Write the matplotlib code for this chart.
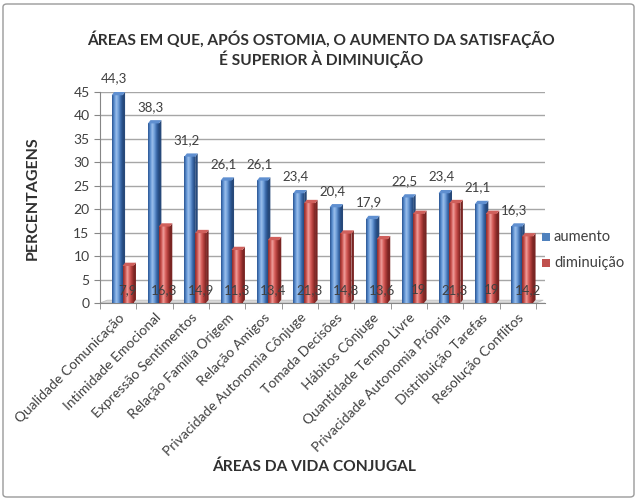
import numpy as np
import matplotlib
matplotlib.use("Agg")
import matplotlib.pyplot as plt
from matplotlib.patches import Rectangle, Polygon, FancyBboxPatch
from matplotlib.colors import LinearSegmentedColormap

categories = ["Qualidade Comunicação", "Intimidade Emocional", "Expressão Sentimentos",
              "Relação Família Origem", "Relação Amigos", "Privacidade Autonomia Cônjuge",
              "Tomada Decisões", "Hábitos Cônjuge", "Quantidade Tempo Livre",
              "Privacidade Autonomia Própria", "Distribuição Tarefas", "Resolução Conflitos"]
aumento = [44.3, 38.3, 31.2, 26.1, 26.1, 23.4, 20.4, 17.9, 22.5, 23.4, 21.1, 16.3]
diminuicao = [7.9, 16.3, 14.9, 11.3, 13.4, 21.3, 14.8, 13.6, 19, 21.3, 19, 14.2]
yticks = list(range(0, 50, 5))

title = "ÁREAS EM QUE, APÓS OSTOMIA, O AUMENTO DA SATISFAÇÃO\nÉ SUPERIOR À DIMINUIÇÃO"
xlabel = "ÁREAS DA VIDA CONJUGAL"
ylabel = "PERCENTAGENS"

plt.rcParams['font.family'] = ['Lato', 'DejaVu Sans']

W, H = 638, 500
fig = plt.figure(figsize=(W / 100, H / 100), dpi=100)
fig.patch.set_facecolor("white")

# chart border
fig.patches.append(FancyBboxPatch((3 / W, 3 / H), 1 - 7 / W, 1 - 7 / H,
                                  boxstyle="round,pad=0,rounding_size=0.006",
                                  transform=fig.transFigure, fill=False,
                                  edgecolor="#9a9a9a", linewidth=1.0))

ax = fig.add_axes([100 / W, 1 - 303 / H, 445 / W, (303 - 92) / H])
n = len(categories)
x = np.arange(n)
bw = 0.30
shift = 0.12

blue_cmap = LinearSegmentedColormap.from_list("b", ["#2b5591", "#5a8ed0", "#9cc0ec", "#6c9cd8", "#3a68a8", "#244a80"])
red_cmap = LinearSegmentedColormap.from_list("r", ["#8e2c2a", "#c9504c", "#f0a19e", "#d8605c", "#b03e3b", "#7e2624"])
grad = np.linspace(0, 1, 64).reshape(1, -1)

def draw_bars(xs, vals, cmap, topc, sidec):
    for xc, v in zip(xs, vals):
        x0, x1 = xc - bw / 2, xc + bw / 2
        ax.imshow(grad, extent=(x0, x1, 0, v), aspect='auto', cmap=cmap,
                  zorder=3, interpolation='bilinear')
        dx, dy = 0.07, 0.7
        ax.add_patch(Polygon([(x0, v), (x1, v), (x1 + dx, v + dy), (x0 + dx, v + dy)],
                             closed=True, facecolor=topc, edgecolor='none', zorder=4))
        ax.add_patch(Polygon([(x1, 0), (x1, v), (x1 + dx, v + dy), (x1 + dx, dy)],
                             closed=True, facecolor=sidec, edgecolor='none', zorder=2.9))

xb = x - bw / 2 + shift
xr = x + bw / 2 + shift
draw_bars(xb, aumento, blue_cmap, "#5f8fd0", "#27497a")
draw_bars(xr, diminuicao, red_cmap, "#d0605c", "#7a2523")

for xc, v in zip(xb, aumento):
    ax.annotate(f"{v:g}".replace(".", ","), (xc, v), xytext=(-2, 12),
                textcoords="offset points", ha="center", va="center",
                fontsize=9.5, color="#404040", zorder=6)
for xc, v in zip(xr, diminuicao):
    ax.text(xc, 2.8, f"{v:g}".replace(".", ","), ha="center", va="center",
            fontsize=9.5, color="#404040", zorder=6)

# floor
ax.add_patch(Polygon([(-0.5, 0), (n - 0.5, 0), (n - 0.3, 0.6), (-0.3, 0.6)], closed=True,
                     facecolor="#d9d9d9", edgecolor="#bfbfbf", lw=0.6, zorder=1.5))

ax.set_xlim(-0.5, n - 0.5 + 0.25)
ax.set_ylim(0, 45)
ax.set_yticks(yticks)
ax.yaxis.grid(True, color="#a6a6a6", lw=1.0, zorder=0)
ax.set_axisbelow(True)
ax.set_xticks(x)
ax.set_xticklabels(categories, rotation=45, ha="right", rotation_mode="anchor",
                   fontsize=10, color="#404040")
ax.set_xticks(np.arange(-0.5, n, 1), minor=True)
ax.tick_params(axis="x", which="major", length=0, pad=6)
ax.tick_params(axis="x", which="minor", length=4, color="#868686")
ax.tick_params(axis="y", length=4, color="#868686", labelsize=10, labelcolor="#404040")
for s in ["top", "right"]:
    ax.spines[s].set_visible(False)
ax.spines["left"].set_color("#868686")
ax.spines["bottom"].set_color("#868686")

fig.text(321 / W, 1 - 49 / H, title, ha="center", va="center", fontsize=11.2,
         fontweight="bold", color="#303030", linespacing=1.2)
fig.text(33 / W, 1 - 198 / H, ylabel, ha="center", va="center", rotation=90,
         fontsize=11.5, fontweight="bold", color="#303030")
fig.text(314 / W, 1 - 467 / H, xlabel, ha="center", va="center",
         fontsize=11.2, fontweight="bold", color="#303030")

# legend
for i, (lab, col) in enumerate([("aumento", "#4f81bd"), ("diminuição", "#c0504d")]):
    yc = 1 - (237 + 26 * i) / H
    fig.patches.append(Rectangle((542 / W, yc - 4 / H), 8 / W, 8 / H,
                                 transform=fig.transFigure, facecolor=col, edgecolor='none'))
    fig.text(554 / W, yc, lab, ha="left", va="center", fontsize=10.5, color="#404040")

fig.savefig("out.png", dpi=100)
